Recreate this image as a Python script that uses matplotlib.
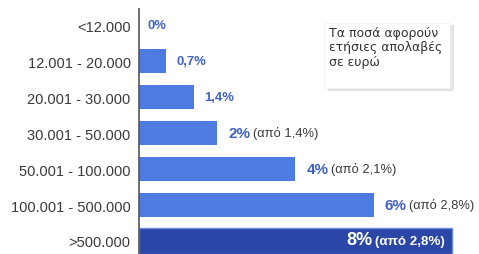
import matplotlib
matplotlib.use("Agg")
import matplotlib.pyplot as plt
from matplotlib.patches import Rectangle

categories = ["<12.000", "12.001 - 20.000", "20.001 - 30.000", "30.001 - 50.000",
              "50.001 - 100.000", "100.001 - 500.000", ">500.000"]
values = [0, 0.7, 1.4, 2, 4, 6, 8]
value_labels = ["0%", "0,7%", "1,4%", "2%", "4%", "6%", "8%"]
prev_labels = ["", "", "", "(από 1,4%)", "(από 2,1%)", "(από 2,8%)", "(από 2,8%)"]
note_text = "Τα ποσά αφορούν\nετήσιες απολαβές\nσε ευρώ"

plt.rcParams['font.family'] = ['Liberation Sans', 'DejaVu Sans']

W, H = 479, 255
fig = plt.figure(figsize=(W / 100, H / 100), dpi=100)
fig.patch.set_facecolor("white")
ax = fig.add_axes([139 / W, 0, 1 - 139 / W, 1])
px_per_unit = 39.1
ax.set_xlim(0, (W - 139) / px_per_unit)
ax.set_ylim((H - 26) / 36, -26 / 36)

bar_color = "#4d7be2"
dark_color = "#2a46a6"
val_color = "#3e62c6"
txt_color = "#3a3a3a"

n = len(categories)
for i, (v, lab, prev) in enumerate(zip(values, value_labels, prev_labels)):
    last = (i == n - 1)
    if last:
        ax.barh(i, v, height=0.72, color=dark_color, edgecolor="#6a8ae6", linewidth=1.0)
        t2 = ax.annotate(prev, xy=(v, i), xytext=(-5, 0), textcoords="offset points",
                         ha="right", va="center", fontsize=9.6, fontweight="bold", color="white")
        ax.annotate(lab, xy=(0, 0), xycoords=t2, xytext=(-2, -0.5), textcoords="offset points",
                    ha="right", va="bottom", fontsize=13, fontweight="bold", color="white")
    else:
        if v > 0:
            ax.barh(i, v, height=0.68, color=bar_color, edgecolor="none")
        big = prev != ""
        off = 8 if big else (6 if v == 0 else 7.5)
        t1 = ax.annotate(lab, xy=(v, i), xytext=(off, 0), textcoords="offset points",
                         ha="left", va="center",
                         fontsize=11 if big else 9.4, fontweight="bold", color=val_color)
        if prev:
            ax.annotate(prev, xy=(1, 0), xycoords=t1, xytext=(2, 0.5), textcoords="offset points",
                        ha="left", va="bottom", fontsize=9.3, color=txt_color)

ax.set_yticks(range(n))
ax.set_yticklabels(categories, fontsize=10.5, color=txt_color)
ax.tick_params(axis="y", length=0, pad=6)
ax.set_xticks([])
for s in ["top", "right", "bottom"]:
    ax.spines[s].set_visible(False)
ax.spines["left"].set_color("#555555")
ax.spines["left"].set_linewidth(1.2)
ax.spines["left"].set_bounds(ax.get_ylim()[0], (10 - 26) / 36)

# note box with soft shadow
shadow = Rectangle((328 / W, 1 - 92 / H), 126 / W, 66 / H, transform=fig.transFigure,
                   facecolor="#e4e4e4", edgecolor="none", zorder=1)
fig.add_artist(shadow)
box = Rectangle((324 / W, 1 - 89 / H), 126 / W, 65 / H, transform=fig.transFigure,
                facecolor="white", edgecolor="#f0f0f0", linewidth=0.5, zorder=2)
fig.add_artist(box)
fig.text(329 / W, 1 - 27 / H, note_text, ha="left", va="top", fontsize=9,
         family="DejaVu Sans", color="#333333", linespacing=1.15, zorder=3)

fig.savefig("out.png", dpi=100, facecolor="white")
